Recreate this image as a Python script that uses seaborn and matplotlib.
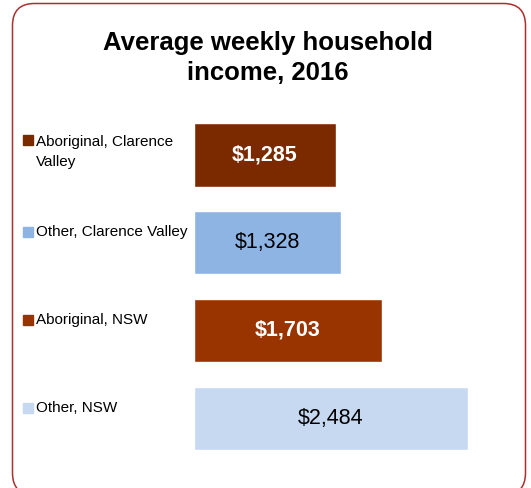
"""Average weekly household income, 2016 - horizontal bar chart."""

import matplotlib.pyplot as plt
import matplotlib.transforms as mtransforms
from matplotlib.patches import FancyBboxPatch
import pandas as pd
import seaborn as sns

categories = ['Aboriginal, Clarence\nValley', 'Other, Clarence Valley',
              'Aboriginal, NSW', 'Other, NSW']
income = [1285, 1328, 1703, 2484]
bar_labels = ['$1,285', '$1,328', '$1,703', '$2,484']
colors = ['#7B2A00', '#8EB4E3', '#993300', '#C6D9F1']
label_colors = ['white', 'black', 'white', 'black']
label_weights = ['bold', 'normal', 'bold', 'normal']

sns.set_theme(style='white')
plt.rcParams['font.family'] = ['Liberation Sans', 'DejaVu Sans']
plt.rcParams['text.color'] = 'black'

df = pd.DataFrame({'group': categories, 'income': income})

fig = plt.figure(figsize=(5.31, 4.88), dpi=100)
ax = fig.add_axes([0.3653, 0.0533, 0.582, 0.719])

sns.barplot(data=df, y='group', x='income', hue='group', palette=colors,
            order=categories, hue_order=categories, width=0.72,
            legend=False, ax=ax, saturation=1)

ax.set_xlim(0, 2800)
ax.set_ylim(3.5, -0.5)
ax.set_xticks([])
ax.set_yticks([])
ax.set_xlabel('')
ax.set_ylabel('')
sns.despine(ax=ax, left=True, bottom=True)

# values inside the bars
for i, (v, lab) in enumerate(zip(income, bar_labels)):
    ax.text(v / 2, i, lab, ha='center', va='center', fontsize=15.5,
            color=label_colors[i], fontweight=label_weights[i])

# legend-like category labels on the left
blend = mtransforms.blended_transform_factory(fig.transFigure, ax.transData)
for i, (cat, c) in enumerate(zip(categories, colors)):
    two_lines = '\n' in cat
    t = mtransforms.offset_copy(blend, fig=fig, y=10.5 if two_lines else 7.5,
                                units='points')
    ax.plot([28 / 531], [i], marker='s', markersize=7.2, color=c,
            transform=t, clip_on=False)
    ax.text(36 / 531, i, cat, ha='left', va='top' if two_lines else 'center',
            fontsize=11, color='black', transform=mtransforms.offset_copy(
                blend, fig=fig, y=14.5 if two_lines else 7.5, units='points'),
            linespacing=1.6)

fig.text(0.505, 0.881, 'Average weekly household\nincome, 2016', ha='center',
         va='center', fontsize=18.5, fontweight='bold', linespacing=1.3,
         color='black')

frame = FancyBboxPatch((0.125, -0.07), 5.13, 4.915,
                       boxstyle='round,pad=0,rounding_size=0.22',
                       transform=fig.dpi_scale_trans, facecolor='none',
                       edgecolor='#A8302E', linewidth=1.1, clip_on=False)
fig.patches.append(frame)

plt.savefig('out.png', dpi=100)
